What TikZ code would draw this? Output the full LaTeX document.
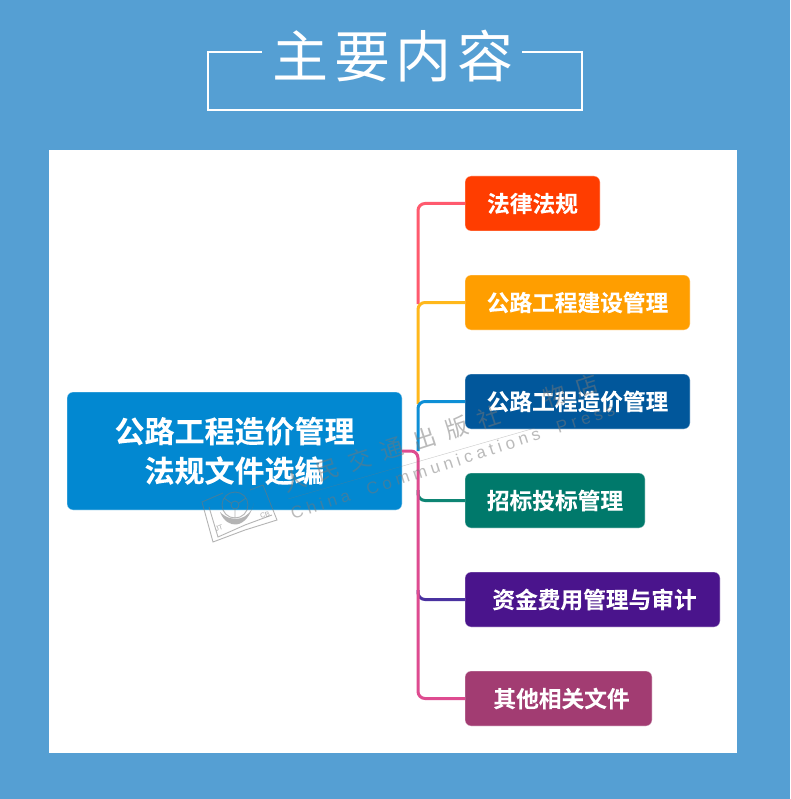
\documentclass[tikz,border=0pt]{standalone}
\usepackage{fontspec}
\setmainfont{Liberation Sans}
\newfontfamily\cjk{Noto Sans CJK SC}
\newfontfamily\cjkb[FakeBold=0.6]{Noto Sans CJK SC Bold}
\newfontfamily\wmfont[LetterSpace=25]{Liberation Sans}
\definecolor{pagebg}{HTML}{559FD3}
\definecolor{cRoot}{HTML}{0288D1}
\definecolor{cA}{HTML}{FF3D00}
\definecolor{cB}{HTML}{FF9E00}
\definecolor{cC}{HTML}{01579B}
\definecolor{cD}{HTML}{00796B}
\definecolor{cE}{HTML}{4A148C}
\definecolor{cF}{HTML}{A23C72}
\definecolor{lA}{HTML}{FF5A6E}
\definecolor{lB}{HTML}{FFB81C}
\definecolor{lC}{HTML}{0E8FD6}
\definecolor{lD}{HTML}{0E8574}
\definecolor{lE}{HTML}{4A32A0}
\definecolor{lF}{HTML}{DE4B90}
\definecolor{wm}{HTML}{777777}
\tikzset{
  x=1pt,y=-1pt,
  box/.style={draw=white,draw opacity=.45,line width=.8pt,rounded corners=6pt,inner sep=0pt,outer sep=0pt,
    text=white,font=\cjkb\fontsize{22.7}{26}\selectfont,anchor=north west,align=center},
  conn/.style={line width=3pt,rounded corners=7pt},
  mark text/.style={text=wm,text opacity=.5,inner sep=0pt,rotate=18,anchor=west},
  logo/.style={draw=wm,draw opacity=.55,line width=.9pt},
}
\begin{document}
\begin{tikzpicture}
\useasboundingbox (0,0) rectangle (790,799);
\fill[pagebg] (0,0) rectangle (790,799);
\fill[white] (49,150) rectangle (737,753);
% title
\coordinate (fa) at (262,52);
\coordinate (fb) at (522,52);
\draw[white,line width=2pt] (fa) -- (208,52) -- (208,110.5) -- (582,110.5) -- (582,52) -- (fb);
\node[text=white,inner sep=0pt,font=\cjk\fontsize{56}{60}\selectfont] (title) at (393,56) {主\hspace{5.5pt}要\hspace{5.5pt}内\hspace{5.5pt}容};
% connectors
\coordinate (rootedge) at (402,451);
\coordinate (tb) at (418,304);
\coordinate (tc) at (418,404);
\coordinate (tr) at (418,451);
\coordinate (td) at (418,490);
\coordinate (te) at (418,590);
% nodes
\node[box,fill=cRoot,minimum width=335pt,minimum height=118pt,font=\cjkb\fontsize{30}{39.5}\selectfont] (root) at (67,392) {公路工程造价管理\\法规文件选编};
\node[box,fill=cA,minimum width=135pt,minimum height=55pt] (a) at (465,176) {法律法规};
\node[box,fill=cB,minimum width=225pt,minimum height=55pt] (b) at (465,275) {公路工程建设管理};
\node[box,fill=cC,minimum width=225pt,minimum height=55pt] (c) at (465,374) {公路工程造价管理};
\node[box,fill=cD,minimum width=180pt,minimum height=55pt] (d) at (465,473) {招标投标管理};
\node[box,fill=cE,minimum width=255pt,minimum height=55pt] (e) at (465,572) {\hspace{4pt}资金费用管理与审计};
\node[box,fill=cF,minimum width=187pt,minimum height=55pt] (f) at (465,671) {\hspace{6pt}其他相关文件};
\draw[conn,lA] (a.west) -| (tb);
\draw[conn,lB] (b.west) -| (tc);
\draw[conn,lC] (c.west) -| (tr);
\draw[conn,lD] (d.west) -| (td);
\draw[conn,lE] (e.west) -| (te);
\draw[conn,lF] (root.east) -- (tr) |- (f.west);
% watermark
\node[mark text,font=\wmfont\fontsize{17}{17}\selectfont] (wmen) at (291,514) {China\ \ Communications\ \ Press};
\node[mark text,font=\cjk\fontsize{23}{23}\selectfont] (wmcn) at (284,484) {人\hspace{11pt}民\hspace{11pt}交\hspace{11pt}通\hspace{11pt}出\hspace{11pt}版\hspace{11pt}社\hspace{46pt}物\hspace{11pt}店};
\coordinate (wl1) at (288,499);
\coordinate (wl2) at (535,428);
\draw[wm,opacity=.4,line width=.4pt] (wl1) -- (wl2);
% logo
\draw[logo] (223,493) -- (202,502) -- (213,542) -- (245,530) -- (277,520) -- (263,485) -- (250,490);
\draw[logo] (209,507) -- (218,537) -- (245,525) -- (272,515);
\draw[logo] (235,505) circle[radius=13pt];
\draw[logo] (235,505) circle[radius=4pt];
\draw[logo] (224,498) -- (231,503) (246,498) -- (239,503) (235,509) -- (235,518);
\fill[wm,opacity=.55] (220,512) .. controls (227,530) and (247,530) .. (254,503) .. controls (250,520) and (232,524) .. (220,512);
\node[text=wm,text opacity=.6,inner sep=0pt,rotate=18,font=\fontsize{7}{7}\selectfont] (wmjt) at (219,528) {JT};
\node[text=wm,text opacity=.6,inner sep=0pt,rotate=18,font=\fontsize{7}{7}\selectfont] (wmcb) at (265,515) {CB};
\end{tikzpicture}
\end{document}
